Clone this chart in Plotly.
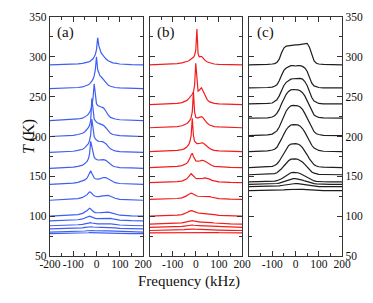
import plotly.graph_objects as go

# frequency grids (kHz)
FREQ_AB = [-200, -150, -100, -80, -60, -50, -40, -35, -30, -25, -20, -15, -10, -5, 0,
           5, 10, 15, 20, 25, 30, 40, 50, 60, 70, 80, 100, 150, 200]
FREQ_C = [-200, -150, -120, -100, -90, -80, -70, -60, -50, -40, -30, -20, -10, 0,
          10, 20, 30, 40, 50, 60, 70, 80, 90, 100, 120, 150, 200]

# panel (a): temperatures (K) and spectra (intensity in K above baseline)
TEMPS_A = [290, 260, 220, 200, 180, 160, 140, 120, 100, 94, 88, 84, 80, 78]
SPEC_A = [
    [0, 0.3, 0.8, 1.2, 1.8, 2.3, 3, 3.5, 4, 5, 6, 7.5, 10, 13, 19, 34, 24, 18, 15, 13, 11, 7.5, 5, 3.5, 2.5, 2, 1, 0.3, 0],
    [0, 0.3, 1, 1.5, 2.2, 3, 4, 5, 6, 7.5, 9.5, 12, 16, 24, 40, 24, 18, 16, 15, 13, 11, 7, 4.5, 3, 2, 1.5, 1, 0.3, 0],
    [0, 0.5, 1.2, 2, 3, 4.5, 6.5, 8, 10, 13, 18, 28, 46, 28, 21, 19, 18, 17.5, 17, 16.5, 16, 12, 7, 4, 2.5, 2, 1, 0.5, 0],
    [0, 0.5, 1.5, 2.5, 4, 6, 9, 11, 14, 20, 48, 30, 22, 19.5, 18, 17, 16.5, 16, 15.5, 15, 14, 11, 7, 4, 2.5, 2, 1, 0.5, 0],
    [0, 0.5, 1.5, 2.5, 4, 6, 9, 11, 15, 22, 42, 28, 20, 17, 15.5, 14.5, 14, 14, 14, 13.5, 13, 11, 7.5, 4.5, 3, 2, 1, 0.5, 0],
    [0, 0.5, 1.5, 2.5, 4, 6, 9, 12, 18, 34, 26, 18, 14, 12, 11, 10.5, 10.5, 10.5, 11, 11, 11, 10, 7.5, 5, 3, 2, 1, 0.5, 0],
    [0, 0.5, 1.5, 2.5, 4, 5.5, 8, 11, 15, 17, 14, 10, 8, 7, 6.5, 6.5, 6.5, 7, 7.5, 8, 8.5, 8.5, 7, 5, 3, 2, 1, 0.3, 0],
    [0, 0.5, 1.2, 2, 3.5, 5, 7, 9, 10.5, 10, 8, 6.5, 5.5, 5, 4.5, 4.5, 4.5, 5, 5, 5.5, 5.5, 6, 6, 5, 3.5, 2.5, 1.2, 0.3, 0],
    [0, 0.5, 1.2, 2, 3.5, 5, 7, 8.5, 10, 9, 7.5, 6, 5, 4.5, 4.3, 4.2, 4.2, 4.3, 4.5, 4.7, 5, 5.2, 5, 4.5, 3.5, 2.5, 1.2, 0.3, 0],
    [0, 0.3, 1, 1.5, 2.5, 3.5, 4.5, 5.3, 6, 5.5, 4.8, 4, 3.5, 3.2, 3, 3, 3, 3.1, 3.2, 3.3, 3.5, 3.6, 3.5, 3.2, 2.6, 2, 1, 0.3, 0],
    [0, 0.3, 0.8, 1.2, 1.8, 2.5, 3.2, 3.6, 4, 3.8, 3.4, 3, 2.7, 2.5, 2.4, 2.3, 2.3, 2.4, 2.4, 2.5, 2.6, 2.7, 2.7, 2.5, 2.1, 1.6, 0.9, 0.3, 0],
    [0, 0.2, 0.6, 1, 1.4, 1.9, 2.4, 2.7, 3, 2.9, 2.7, 2.4, 2.2, 2, 1.9, 1.9, 1.9, 1.9, 1.9, 2, 2, 2.1, 2.1, 2, 1.7, 1.3, 0.8, 0.3, 0],
    [0, 0.2, 0.5, 0.8, 1.1, 1.4, 1.7, 1.9, 2, 2, 1.9, 1.8, 1.7, 1.6, 1.5, 1.5, 1.5, 1.5, 1.5, 1.5, 1.5, 1.5, 1.5, 1.4, 1.2, 1, 0.6, 0.2, 0],
    [0, 0.1, 0.3, 0.5, 0.7, 0.9, 1.1, 1.2, 1.3, 1.3, 1.3, 1.2, 1.2, 1.1, 1.1, 1, 1, 1, 1, 1, 1, 1, 1, 0.9, 0.8, 0.6, 0.4, 0.1, 0],
]

# panel (b)
TEMPS_B = [290, 240, 211, 181, 161, 142, 121, 100, 90, 86, 82, 79]
SPEC_B = [
    [0, 0.3, 1, 1.5, 2.5, 3, 4, 4.5, 5, 6, 7, 8, 9.5, 12, 18, 45, 14, 10, 10, 10.5, 9, 5.5, 3.5, 2.5, 1.5, 1, 0.5, 0.2, 0],
    [0, 0.3, 1, 1.5, 2.5, 3.5, 5, 6, 7.5, 9, 11, 13, 16, 24, 52, 26, 17, 18, 20, 21, 18, 11, 6, 3.5, 2.5, 1.5, 1, 0.3, 0],
    [0, 0.3, 1, 1.5, 2.5, 3.5, 5, 6, 7.5, 9.5, 13, 20, 45, 20, 13, 12, 12, 13, 14, 14, 13, 9, 5.5, 3.5, 2.5, 1.5, 1, 0.3, 0],
    [0, 0.3, 1, 1.5, 2.5, 3.5, 5.5, 7, 9, 13, 20, 42, 20, 13, 11, 10, 10, 10, 10.5, 11, 11, 9, 6, 4, 2.5, 1.5, 1, 0.3, 0],
    [0, 0.3, 1, 1.5, 2.5, 3.5, 5, 6.5, 8.5, 12, 16, 18, 14, 10, 8.5, 8, 8, 8, 8.5, 9, 9, 8, 6, 4, 2.5, 1.5, 1, 0.3, 0],
    [0, 0.3, 0.8, 1.3, 2, 3, 4.5, 6, 8, 10, 11.5, 10, 8, 6.5, 5.5, 5, 5, 5, 5, 5.5, 5.5, 6, 5.5, 4.5, 3, 2, 1, 0.3, 0],
    [0, 0.3, 0.8, 1.2, 2, 3, 4.5, 5.5, 6.5, 7.5, 8, 7.5, 6.5, 5.5, 4.8, 4.3, 4, 4, 4, 4, 4, 4, 4, 3.5, 2.7, 2, 1, 0.3, 0],
    [0, 0.3, 0.8, 1.2, 2, 3, 4.2, 5, 6, 6.7, 7, 6.7, 6, 5.3, 4.7, 4.2, 4, 3.8, 3.7, 3.6, 3.6, 3.6, 3.5, 3.2, 2.7, 2, 1, 0.3, 0],
    [0, 0.2, 0.6, 1, 1.5, 2.2, 3, 3.5, 4, 4.3, 4.5, 4.3, 4, 3.6, 3.2, 2.9, 2.7, 2.6, 2.5, 2.5, 2.5, 2.4, 2.3, 2.1, 1.8, 1.4, 0.8, 0.2, 0],
    [0, 0.2, 0.5, 0.8, 1.2, 1.6, 2.1, 2.4, 2.7, 2.9, 3, 2.9, 2.7, 2.5, 2.3, 2.1, 2, 1.9, 1.8, 1.8, 1.8, 1.7, 1.6, 1.5, 1.3, 1, 0.6, 0.2, 0],
    [0, 0.1, 0.4, 0.6, 0.9, 1.1, 1.4, 1.6, 1.8, 1.9, 2, 1.9, 1.8, 1.7, 1.6, 1.5, 1.4, 1.3, 1.3, 1.3, 1.3, 1.2, 1.1, 1, 0.9, 0.7, 0.4, 0.1, 0],
    [0, 0.1, 0.3, 0.4, 0.6, 0.7, 0.9, 1, 1.1, 1.2, 1.2, 1.2, 1.1, 1.1, 1, 1, 0.9, 0.9, 0.9, 0.9, 0.8, 0.8, 0.7, 0.7, 0.6, 0.5, 0.3, 0.1, 0],
]

# panel (c)
TEMPS_C = [290, 261, 241, 223, 201, 181, 161, 152, 143, 140, 137, 132]
SPEC_C = [
    [0, 0, 0.5, 1, 1.5, 3, 7, 15, 21, 23.5, 24, 24.5, 24.5, 25, 25, 25.5, 26, 26.5, 27, 22, 12, 5, 2, 1, 0.5, 0, 0],
    [0, 0, 0.5, 1, 2, 4, 9, 16, 22, 25, 27, 28, 28, 27.5, 28, 28, 27, 25, 21, 14, 6, 2.5, 1, 0.5, 0, 0, 0],
    [0, 0, 0.5, 1, 2.5, 5, 10, 17, 23, 27, 29.5, 31, 31.5, 31.5, 32, 32, 31, 28, 23, 15, 8, 3.5, 1.5, 0.5, 0, 0, 0],
    [0, 0, 0.5, 1.5, 3, 6, 11, 18, 25, 30, 33.5, 35.5, 36, 36, 35.5, 34.5, 32, 28, 22, 15, 8, 4, 2, 1, 0.5, 0, 0],
    [0, 0.5, 1, 2, 3.5, 6, 11, 18, 25, 31, 35, 37.5, 38, 38, 37.5, 36, 33, 28, 22, 15, 9, 5, 2.5, 1.5, 0.5, 0, 0],
    [0, 0.5, 1, 2, 3, 5.5, 10, 16, 22, 27.5, 31, 33.5, 34, 34, 33.5, 32, 29, 24.5, 19, 13, 8, 4.5, 2.5, 1.5, 0.5, 0, 0],
    [0, 0.5, 1, 1.5, 2.5, 4.5, 8, 13, 19, 24, 27.5, 29.5, 30, 30, 29.5, 28, 25, 21, 16, 11, 6.5, 3.5, 2, 1, 0.5, 0, 0],
    [0, 0.3, 0.6, 1, 1.5, 2.5, 4.5, 7.5, 11, 14.5, 17.5, 19.5, 20, 20, 19.5, 18, 16, 13, 9.5, 6, 3.5, 2, 1, 0.5, 0.3, 0, 0],
    [0, 0.2, 0.4, 0.6, 1, 1.5, 2.5, 4, 6, 8, 10, 11.5, 12, 12, 11.5, 10.5, 9, 7, 5, 3.5, 2, 1.2, 0.7, 0.4, 0.2, 0, 0],
    [0, 0.1, 0.3, 0.5, 0.7, 1, 1.5, 2.5, 3.5, 4.5, 5.8, 6.6, 7, 7, 6.7, 6, 5.2, 4.2, 3.2, 2.2, 1.4, 0.8, 0.5, 0.3, 0.1, 0, 0],
    [0, 0.1, 0.2, 0.3, 0.5, 0.7, 1, 1.5, 2, 2.6, 3.2, 3.7, 4, 4, 3.8, 3.4, 3, 2.5, 1.9, 1.3, 0.9, 0.5, 0.3, 0.2, 0.1, 0, 0],
    [0, 0.1, 0.2, 0.3, 0.4, 0.5, 0.7, 0.9, 1.1, 1.4, 1.6, 1.8, 2, 2, 1.9, 1.8, 1.6, 1.4, 1.1, 0.8, 0.6, 0.4, 0.3, 0.2, 0.1, 0, 0],
]

Y_TICKS = [50, 100, 150, 200, 250, 300, 350]
X_TICKS_A = [-200, -100, 0, 100, 200]
X_TICKS_BC = [-100, 0, 100, 200]

COLORS = ["#3f5ff2", "#f21c1c", "#1e1e1e"]
FONT = "Liberation Serif"

fig = go.Figure()
panels = [(TEMPS_A, SPEC_A, FREQ_AB, "x", "y", COLORS[0]),
          (TEMPS_B, SPEC_B, FREQ_AB, "x2", "y2", COLORS[1]),
          (TEMPS_C, SPEC_C, FREQ_C, "x3", "y3", COLORS[2])]
for temps, specs, freqs, xa, ya, col in panels:
    for t, s in zip(temps, specs):
        fig.add_trace(go.Scatter(x=freqs, y=[t + v for v in s], mode="lines",
                                 line=dict(color=col, width=1.2),
                                 xaxis=xa, yaxis=ya, showlegend=False,
                                 hoverinfo="skip"))

# page body has an 8 px margin: the figure starts at (8, 8) in the window
OFF = 8
W, H = 373 - OFF, 303 - OFF
L, T = 50 - OFF, 17 - OFF
R = W - (342 - OFF)
B = H - (256 - OFF)
pw = W - L - R
ph = H - T - B
def dom(a, b):
    return [(a - 50) / pw, (b - 50) / pw]
def px(xr):
    return (xr - 50) / pw
def py(yr):
    return 1 - (yr - 17) / ph

frame = dict(showline=True, linecolor="#333333", linewidth=1.3, mirror="ticks",
             ticks="inside", tickcolor="#333333", ticklen=5, tickwidth=1,
             showgrid=False, zeroline=False, automargin=False,
             tickfont=dict(family=FONT, size=11.5, color="#111"))

def xax(d, vals):
    return dict(frame, domain=d, range=[-200, 200], tickvals=vals, tickangle=0,
                ticktext=[str(v) for v in vals], ticklabelstandoff=-3,
                minor=dict(dtick=50, tick0=-200, ticks="inside", ticklen=3, tickcolor="#333333"))

def yax(anchor, show, side="left"):
    return dict(frame, anchor=anchor, range=[50, 350], tickvals=Y_TICKS,
                showticklabels=show, side=side, domain=[0, 1],
                minor=dict(dtick=25, tick0=50, ticks="inside", ticklen=3, tickcolor="#333333"))

fig.update_layout(
    template="none",
    width=W, height=H, margin=dict(l=L, r=R, t=T, b=B, pad=0, autoexpand=False),
    paper_bgcolor="white", plot_bgcolor="white",
    xaxis=dict(xax(dom(50, 143), X_TICKS_A), anchor="y"),
    xaxis2=dict(xax(dom(149.5, 242), X_TICKS_BC), anchor="y2"),
    xaxis3=dict(xax(dom(249, 342), X_TICKS_BC), anchor="y3"),
    yaxis=yax("x", True),
    yaxis2=dict(yax("x2", False), matches="y"),
    yaxis3=dict(yax("x3", True, "right"), matches="y"),
    font=dict(family=FONT, color="#111"),
)

for txt, xp in [("(a)", 55), ("(b)", 155), ("(c)", 255)]:
    fig.add_annotation(text=txt, x=px(xp), y=py(33),
                       xref="paper", yref="paper", xanchor="left", yanchor="middle",
                       showarrow=False, font=dict(family=FONT, size=15, color="#111"))

fig.add_annotation(text="Frequency (kHz)", x=px(188.5), y=py(292),
                   xref="paper", yref="paper", showarrow=False,
                   font=dict(family=FONT, size=15, color="#111"))
fig.add_annotation(text="<i>T</i> (K)", x=px(18), y=py(137),
                   xref="paper", yref="paper", showarrow=False, textangle=-90,
                   font=dict(family=FONT, size=16, color="#111"))

fig.write_html("out.html")
